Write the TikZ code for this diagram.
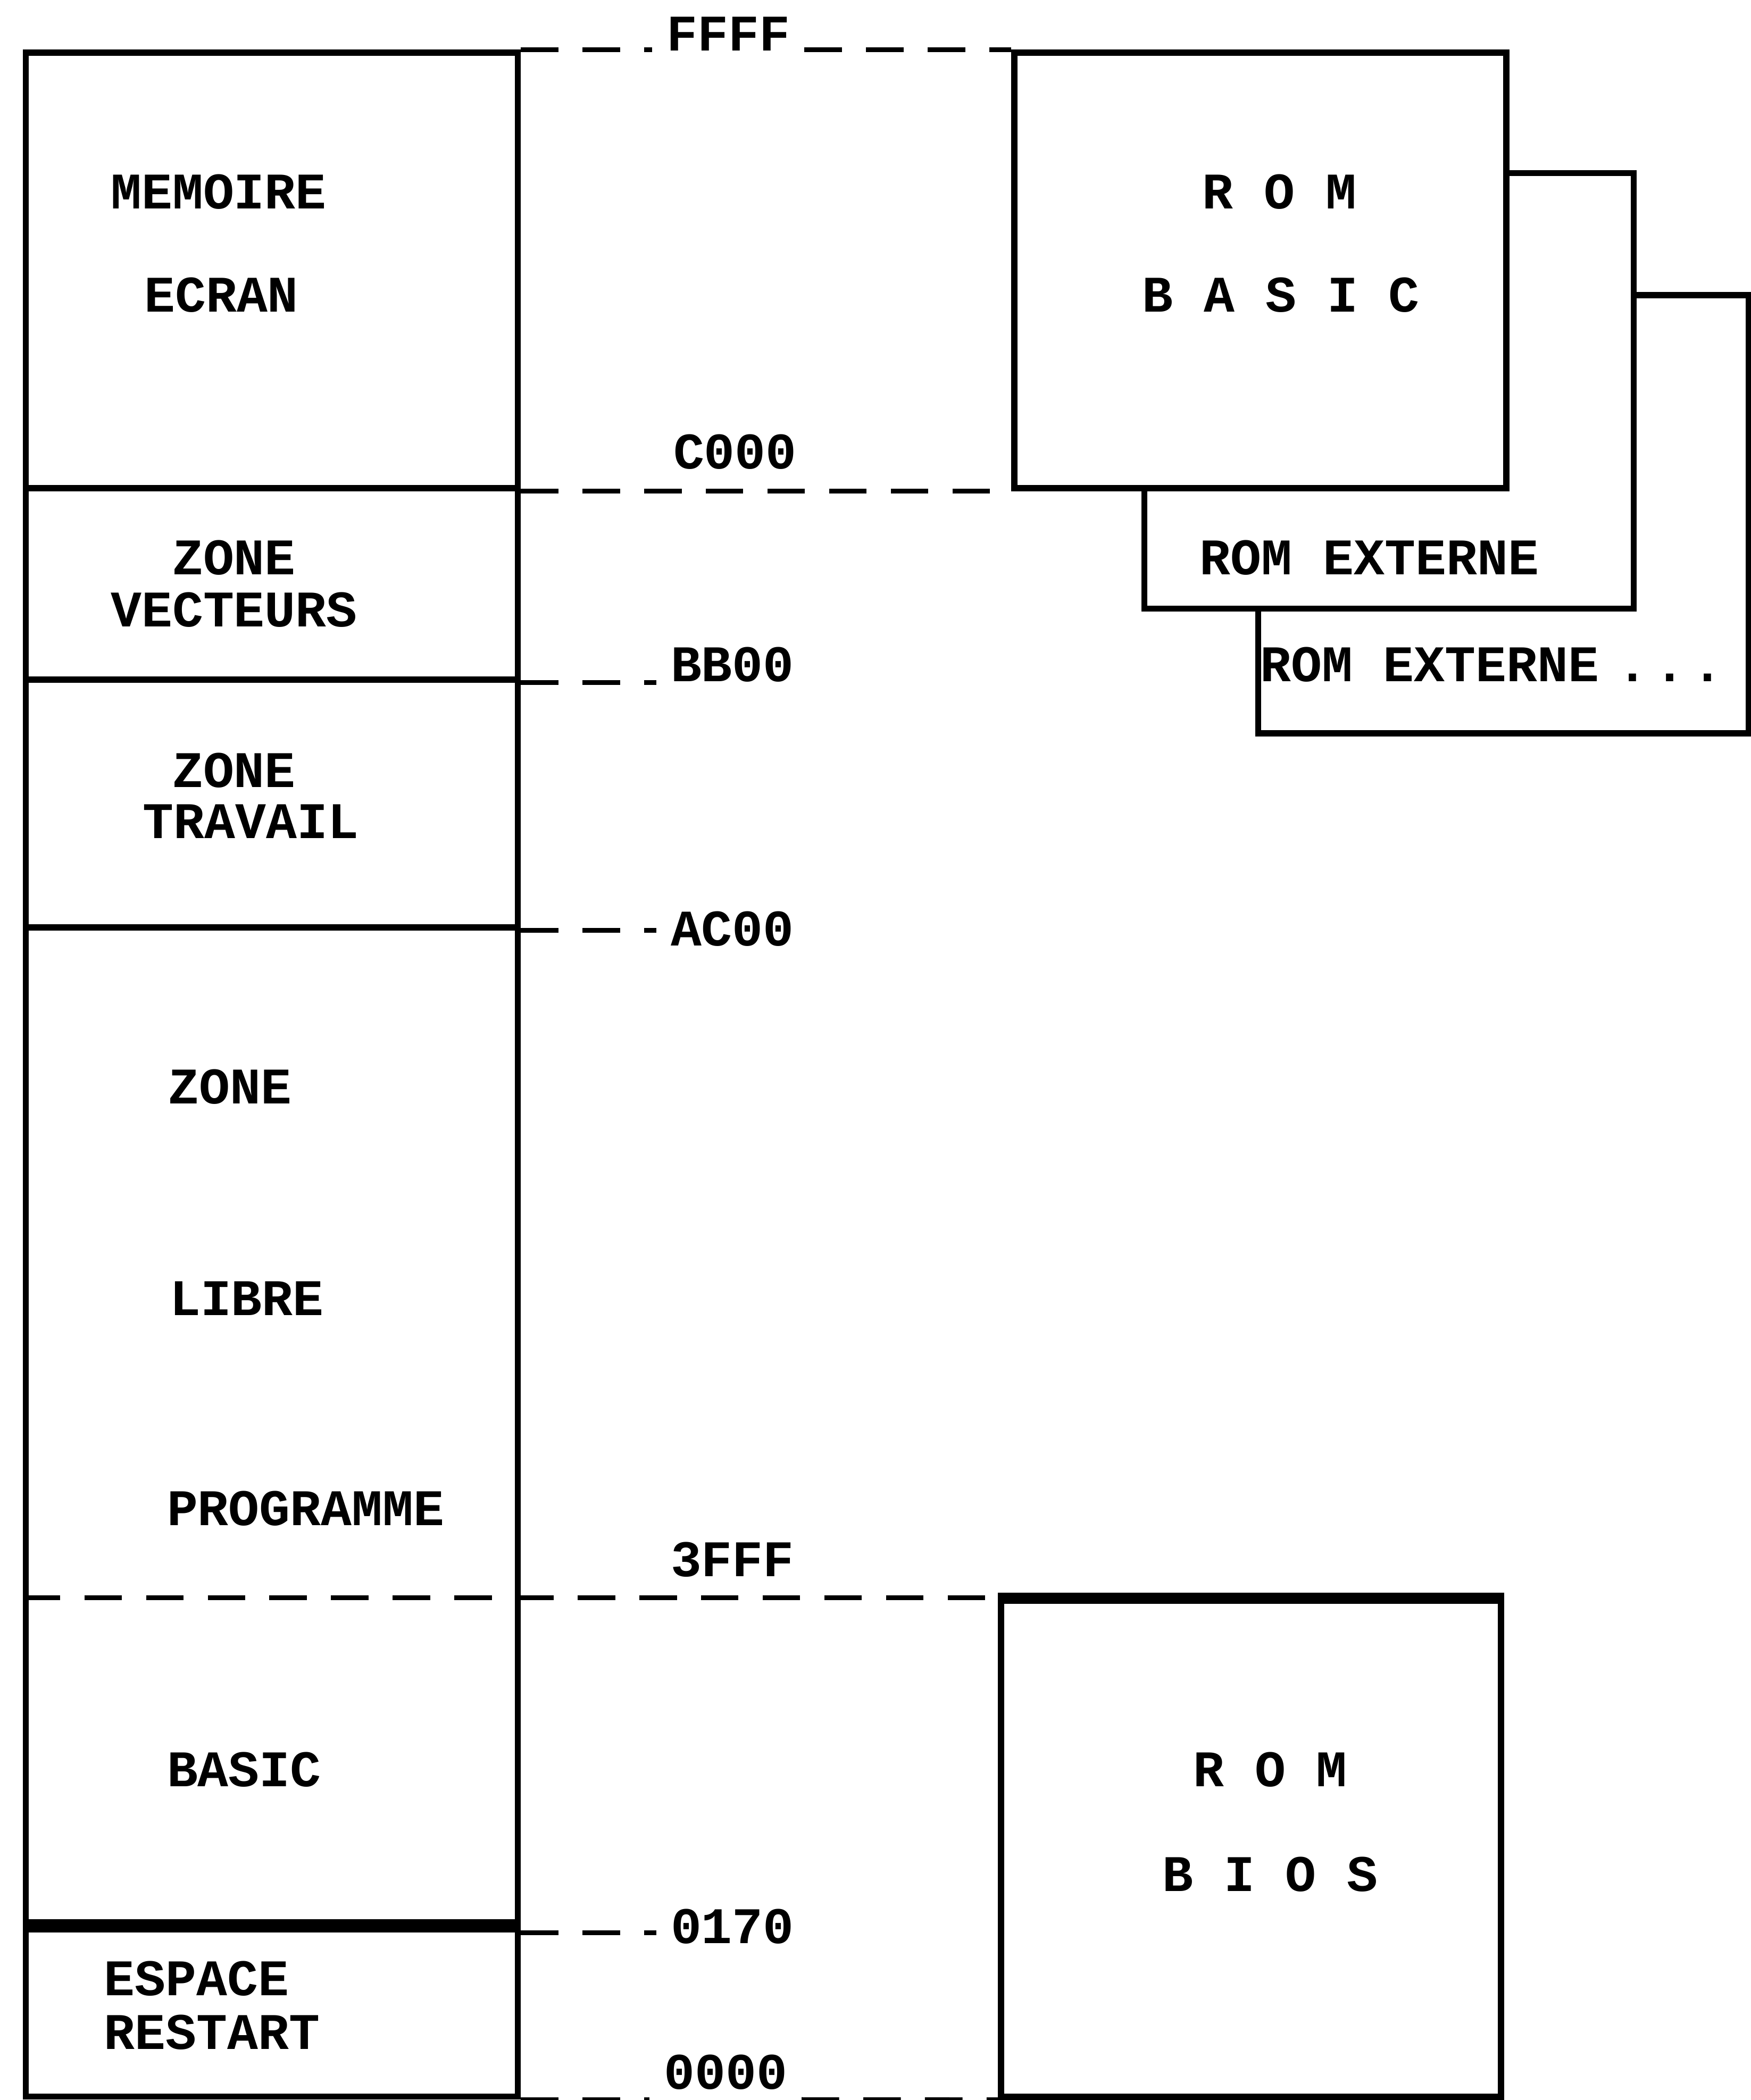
\documentclass[tikz,border=0pt]{standalone}
\usepackage{fontspec}
\setmonofont{Liberation Mono}
\usepackage{tikz}
\usetikzlibrary{positioning}

\begin{document}
\begin{tikzpicture}[
  x=0.01cm, y=-0.01cm,
  cell/.style   ={draw=black, line width=1.3pt, minimum width=3.67cm, inner sep=0pt, anchor=north west},
  rom_box/.style={draw=black, line width=1.3pt, fill=white, inner sep=0pt, anchor=north west},
  txt/.style    ={font=\fontsize{10.9}{13}\selectfont\ttfamily\bfseries, inner sep=0pt, anchor=base west},
  addr/.style   ={line width=1pt, dash pattern=on 2.8mm off 1.8mm},
  thick_rule/.style={line width=2.8pt},
]
  \useasboundingbox (0,0) rectangle (1307,1568);

  % memory map (left column)
  \node[cell, minimum height=3.25cm] (ecran)   at (17,37)   {};
  \node[cell, minimum height=1.43cm] (vect)    at (17,362)  {};
  \node[cell, minimum height=1.85cm] (trav)    at (17,505)  {};
  \node[cell, minimum height=7.48cm] (libre)   at (17,690)  {};
  \node[cell, minimum height=1.25cm] (restart) at (17,1438) {};
  \draw[thick_rule] (restart.north west) -- (restart.north east);

  % ROM banks
  \node[rom_box, minimum width=3.66cm, minimum height=3.27cm] (ext2)     at (937,218)  {};
  \node[rom_box, minimum width=3.65cm, minimum height=3.25cm] (ext1)     at (852,127)  {};
  \node[rom_box, minimum width=3.67cm, minimum height=3.25cm] (rombasic) at (755,37)   {};
  \node[rom_box, minimum width=3.73cm, minimum height=3.70cm] (rombios)  at (745,1193) {};
  \draw[line width=2.2pt] (rombios.north west) -- (rombios.north east);

  % texts
  \node[txt] (t_memoire)  at (82,156)   {MEMOIRE};
  \node[txt] (t_ecran)    at (107,233)  {ECRAN};
  \node[txt] (t_zone1)    at (128,429)  {ZONE};
  \node[txt] (t_vect)     at (82,468)   {VECTEURS};
  \node[txt] (t_zone2)    at (128,588)  {ZONE};
  \node[txt] (t_trav)     at (106,626)  {TRAVAIL};
  \node[txt] (t_zone3)    at (125,824)  {ZONE};
  \node[txt] (t_libre)    at (126,982)  {LIBRE};
  \node[txt] (t_prog)     at (124,1139) {PROGRAMME};
  \node[txt] (t_basic)    at (124,1334) {BASIC};
  \node[txt] (t_espace)   at (77,1490)  {ESPACE};
  \node[txt] (t_restart)  at (77,1530)  {RESTART};

  \node[txt] (t_rom1)     at (897,156)  {R O M};
  \node[txt] (t_basic2)   at (852,233)  {B A S I C};
  \node[txt] (t_ext1)     at (895,429)  {ROM EXTERNE};
  \node[txt] (t_ext2)     at (940,509)  {ROM EXTERNE\hspace{0.35em}.\hspace{0.13em}.\hspace{0.13em}.};
  \node[txt] (t_rom2)     at (890,1334) {R O M};
  \node[txt] (t_bios)     at (867,1412) {B I O S};

  % addresses
  \node[txt] (a_ffff) at (497,38)   {FFFF};
  \node[txt] (a_c000) at (502,350)  {C000};
  \node[txt] (a_bb00) at (500,509)  {BB00};
  \node[txt] (a_ac00) at (500,706)  {AC00};
  \node[txt] (a_3fff) at (500,1177) {3FFF};
  \node[txt] (a_0170) at (500,1451) {0170};
  \node[txt] (a_0000) at (495,1560) {0000};

  \coordinate (split) at (17,1193);

  \draw[addr, shorten >=1mm] (ecran.north east) -- (ecran.north east -| a_ffff.west);
  \draw[addr, shorten <=1mm] (ecran.north east -| a_ffff.east) -- (rombasic.north west);
  \draw[addr] (ecran.south east) -- (rombasic.south west);
  \draw[addr, shorten >=1mm] (vect.south east) -- (vect.south east -| a_bb00.west);
  \draw[addr, shorten >=1mm] (trav.south east) -- (trav.south east -| a_ac00.west);
  \draw[addr] (split) -- (rombios.north west);
  \draw[addr, shorten >=1mm] (libre.south east) -- (libre.south east -| a_0170.west);
  \draw[addr, shorten >=1mm] (restart.south east) -- (restart.south east -| a_0000.west);
  \draw[addr, shorten <=1mm] (restart.south east -| a_0000.east) -- (rombios.south west);
\end{tikzpicture}
\end{document}
